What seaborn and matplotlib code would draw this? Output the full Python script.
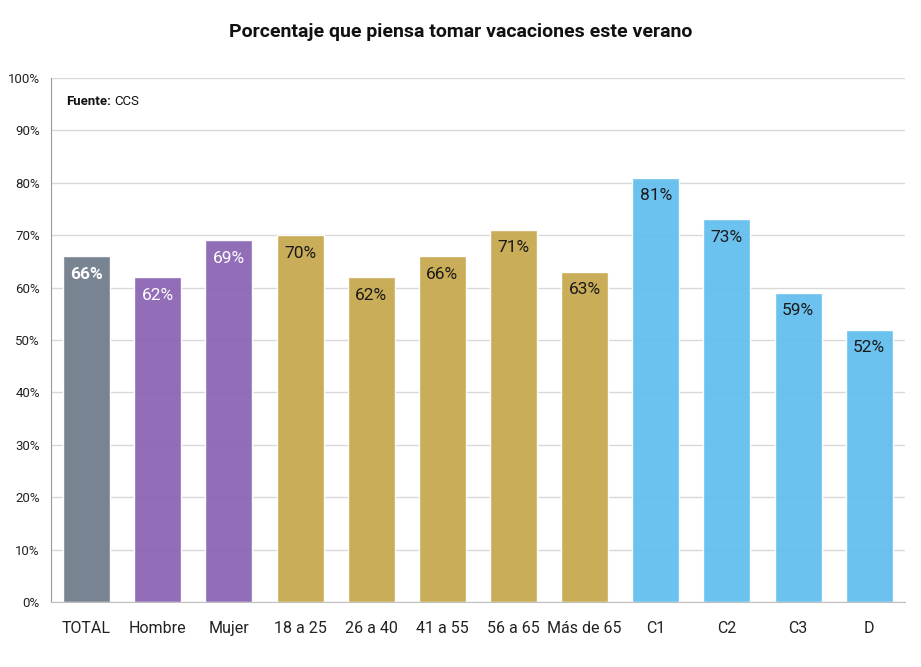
import pandas as pd
import numpy as np
import matplotlib
matplotlib.use("Agg")
import matplotlib.pyplot as plt
import seaborn as sns

# Datos
categorias = ['TOTAL', 'Hombre', 'Mujer', '18 a 25', '26 a 40', '41 a 55',
              '56 a 65', 'Más de 65', 'C1', 'C2', 'C3', 'D']
valores = [66, 62, 69, 70, 62, 66, 71, 63, 81, 73, 59, 52]
grupos = ['total', 'sexo', 'sexo', 'edad', 'edad', 'edad', 'edad', 'edad',
          'gse', 'gse', 'gse', 'gse']
colores = {'total': '#75808F', 'sexo': '#8E69B5', 'edad': '#C9AB52', 'gse': '#66C0EE'}
color_texto = {'total': 'white', 'sexo': 'white', 'edad': '#1a1a1a', 'gse': '#1a1a1a'}

df = pd.DataFrame({'categoria': categorias, 'valor': valores, 'grupo': grupos})

sns.set_style("white")
plt.rcParams['font.family'] = ['Roboto', 'DejaVu Sans']

fig = plt.figure(figsize=(9.21, 6.67), dpi=100)
ax = fig.add_axes([0.0554, 0.0975, 0.927, 0.7855])

sns.barplot(data=df, x='categoria', y='valor', hue='grupo', palette=colores,
            dodge=False, width=0.66, saturation=1, alpha=0.97, legend=False,
            ax=ax, zorder=2)

ax.set_ylim(0, 100)
ax.set_xlim(-0.5, len(categorias) - 0.5)
ax.set_yticks(range(0, 101, 10))
ax.set_yticklabels([f"{v}%" for v in range(0, 101, 10)], fontsize=9.5, color='#222222')
ax.yaxis.grid(True, color='#d9d9d9', linewidth=1, zorder=0)
ax.set_axisbelow(True)

ax.set_xticks(range(len(categorias)))
ax.set_xticklabels(categorias, fontsize=11.5, color='#222222')
ax.tick_params(axis='x', length=0, pad=14)
ax.set_xticks(np.arange(-0.5, len(categorias), 1), minor=True)
ax.tick_params(axis='x', which='minor', length=6, color='#bfbfbf', width=1)
ax.tick_params(axis='y', length=5, color='#999999', width=1, pad=3)

for s in ['top', 'right']:
    ax.spines[s].set_visible(False)
ax.spines['left'].set_color('#999999')
ax.spines['bottom'].set_color('#bfbfbf')

ax.set_xlabel('')
ax.set_ylabel('')

# Etiquetas de valor
for i, (v, g) in enumerate(zip(valores, grupos)):
    ax.text(i, v - 2.0, f"{v}%", ha='center', va='top', fontsize=12.5,
            color=color_texto[g], fontweight='bold' if g == 'total' else 'normal')

# Fuente
t1 = ax.text(0.018, 0.955, 'Fuente:', transform=ax.transAxes, fontsize=9.5,
             fontweight='bold', ha='left', va='center', color='#111111')
fig.canvas.draw()
bb = t1.get_window_extent().transformed(ax.transAxes.inverted())
ax.text(bb.x1 + 0.004, 0.955, 'CCS', transform=ax.transAxes, fontsize=9.5,
        ha='left', va='center', color='#111111')

fig.suptitle('Porcentaje que piensa tomar vacaciones este verano', fontsize=14,
             fontweight='bold', y=0.965, x=0.5, color='#111111')

fig.savefig('out.png', dpi=100)
